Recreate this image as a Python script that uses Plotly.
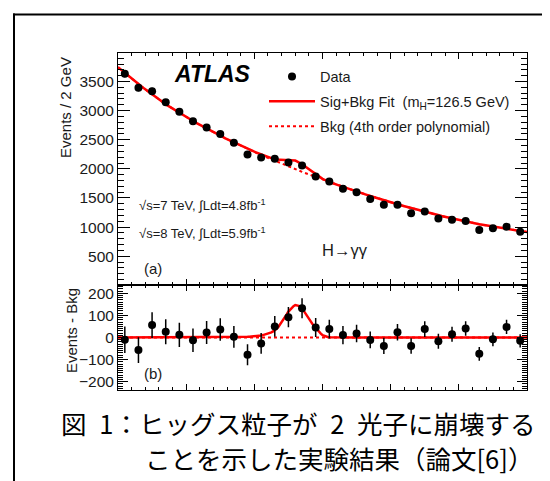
import numpy as np
import plotly.graph_objects as go

# ---------------- data ----------------
mass_bins = [101, 103, 105, 107, 109, 111, 113, 115, 117, 119,
             121, 123, 125, 127, 129, 131, 133, 135, 137, 139,
             141, 143, 145, 147, 149, 151, 153, 155, 157, 159]
data_events = [3632, 3391, 3333, 3143, 2983, 2816, 2712, 2597, 2448, 2247,
               2195, 2172, 2110, 2057, 1867, 1781, 1660, 1597, 1481, 1383,
               1383, 1238, 1267, 1146, 1128, 1105, 950, 979, 1008, 920]
data_err = [60, 58, 58, 56, 55, 53, 52, 51, 49, 47,
            47, 47, 46, 45, 43, 42, 41, 40, 38, 37,
            37, 35, 36, 34, 34, 33, 31, 31, 32, 30]
residuals = [-10, -57, 56, 26, 12, -12, 23, 36, 3, -78,
             -27, 50, 92, 132, 45, 38, 11, 18, -11, -38,
             24, -38, 38, -17, 15, 41, -74, -8, 48, -15]

# background (4th order polynomial) curve, read at bin centres + edges
bkg_mass = [100, 101, 103, 105, 107, 109, 111, 113, 115, 117, 119,
            121, 123, 125, 127, 129, 131, 133, 135, 137, 139,
            141, 143, 145, 147, 149, 151, 153, 155, 157, 159, 160]
bkg_curve = [3745, 3645, 3455, 3275, 3110, 2960, 2820, 2690, 2568, 2452, 2342,
             2237, 2137, 2041, 1949, 1860, 1774, 1691, 1611, 1534, 1461,
             1391, 1325, 1262, 1203, 1148, 1097, 1050, 1007, 967, 930, 915]

# signal component of the fit
sig_mass = [114, 117, 119, 120, 121, 122, 122.5, 123, 123.5, 124, 124.5, 125,
            125.5, 126, 126.5, 127, 127.5, 128, 128.5, 129, 129.5, 130, 130.5,
            131, 132]
sig_curve = [0, 1, 3, 5, 9, 17, 23, 32, 47, 68, 92, 117,
             137, 147, 143, 131, 110, 86, 62, 42, 24, 11, 4,
             1, 0]

y_top_ticks = [500, 1000, 1500, 2000, 2500, 3000, 3500]
y_bot_ticks = [-200, -100, 0, 100, 200]

# ---------------- derived curves ----------------
x_fine = np.arange(100, 160.001, 0.25)
bkg_f = np.interp(x_fine, bkg_mass, bkg_curve)
sig_f = np.interp(x_fine, sig_mass, sig_curve, left=0, right=0)

W, H = 550, 481
def px(x):
    return x / W
def py(y):
    return 1 - y / H

FONT = "Liberation Sans, Arial, sans-serif"
RED = "#ff0000"

fig = go.Figure()

# top panel
fig.add_trace(go.Scatter(x=x_fine, y=bkg_f, mode="lines", xaxis="x2", yaxis="y2",
                         line=dict(color=RED, width=2, dash="dot"),
                         name="Bkg (4th order polynomial)", legendrank=3, legendgroup="c"))
fig.add_trace(go.Scatter(x=x_fine, y=bkg_f + sig_f, mode="lines", xaxis="x2", yaxis="y2",
                         line=dict(color=RED, width=2.5),
                         name="Sig+Bkg Fit\u00a0 (m<sub>H</sub>=126.5 GeV)", legendrank=2,
                         legendgroup="b"))
fig.add_trace(go.Scatter(x=mass_bins, y=data_events, mode="markers", xaxis="x2", yaxis="y2",
                         marker=dict(color="black", size=8),
                         error_y=dict(type="data", array=data_err, color="black",
                                      thickness=1.5, width=0),
                         name="Data", legendrank=1, legendgroup="a"))

# bottom panel
fig.add_trace(go.Scatter(x=x_fine, y=bkg_f - bkg_f, mode="lines", xaxis="x", yaxis="y",
                         line=dict(color=RED, width=2, dash="dot"), showlegend=False))
fig.add_trace(go.Scatter(x=x_fine, y=sig_f, mode="lines", xaxis="x", yaxis="y",
                         line=dict(color=RED, width=2.5), showlegend=False))
fig.add_trace(go.Scatter(x=mass_bins, y=residuals, mode="markers", xaxis="x", yaxis="y",
                         marker=dict(color="black", size=8),
                         error_y=dict(type="data", array=data_err, color="black",
                                      thickness=1.5, width=0),
                         showlegend=False))

xdom = [px(110), px(519)]
top_dom = [py(277.3), py(44.7)]
bot_dom = [py(381.7), py(277.3)]

common_x = dict(range=[100, 160], showticklabels=False, ticks="inside", ticklen=6,
                tickwidth=1, tickcolor="black", tick0=100, dtick=10,
                minor=dict(ticks="inside", dtick=2, ticklen=3, tickcolor="black", tickwidth=1),
                showline=True, linecolor="black", linewidth=1, mirror="allticks",
                showgrid=False, zeroline=False, domain=xdom)

TICKFONT = dict(size=15.5, family=FONT, color="#1a1a1a")

fig.update_layout(
    width=W, height=H,
    margin=dict(l=0, r=0, t=0, b=0),
    paper_bgcolor="white", plot_bgcolor="white",
    font=dict(family=FONT, color="#1a1a1a"),
    xaxis=dict(**common_x, anchor="y"),
    xaxis2=dict(**common_x, anchor="y2", matches="x"),
    yaxis=dict(domain=bot_dom, range=[-236, 236], anchor="x",
               tickmode="array", tickvals=y_bot_ticks, ticks="inside", ticklen=10,
               tickwidth=1, tickcolor="black",
               minor=dict(ticks="inside", tickmode="linear", tick0=0, dtick=10, ticklen=5,
                          tickcolor="black", tickwidth=1),
               showline=True, linecolor="black", linewidth=1, mirror="allticks",
               showgrid=False, zeroline=False, tickfont=TICKFONT),
    yaxis2=dict(domain=top_dom, range=[0.5, 3995], anchor="x2",
                tickmode="array", tickvals=y_top_ticks, ticks="inside", ticklen=12,
                tickwidth=1, tickcolor="black",
                minor=dict(ticks="inside", tickmode="linear", tick0=0, dtick=100, ticklen=6,
                           tickcolor="black", tickwidth=1),
                showline=True, linecolor="black", linewidth=1, mirror="allticks",
                showgrid=False, zeroline=False, tickfont=TICKFONT),
    showlegend=True,
    legend=dict(x=px(256), y=py(52.5), xanchor="left", yanchor="top",
                bgcolor="rgba(0,0,0,0)", borderwidth=0, itemwidth=46,
                font=dict(size=14.5, family=FONT, color="#1a1a1a"),
                traceorder="grouped", tracegroupgap=3),
)

ann = []
def add_text(text, x, y, size, xanchor="left", yanchor="middle", angle=0, family=FONT, color="#1a1a1a"):
    ann.append(dict(text=text, x=px(x), y=py(y), xref="paper", yref="paper",
                    xanchor=xanchor, yanchor=yanchor, showarrow=False, textangle=angle,
                    font=dict(size=size, family=family, color=color)))

add_text("<b><i>ATLAS</i></b>", 164, 66, 23, color="black")
add_text("√s=7 TeV, ∫Ldt=4.8fb<sup>-1</sup>", 129, 197.5, 13)
add_text("√s=8 TeV, ∫Ldt=5.9fb<sup>-1</sup>", 129, 225, 13)
add_text("(a)", 134, 260, 15)
add_text("(b)", 134, 365, 15)
add_text("H→γγ", 312, 242, 16.5)
add_text("Events / 2 GeV", 57, 100, 15, xanchor="center", angle=-90)
add_text("Events - Bkg", 63, 323, 15, xanchor="center", angle=-90)

CJK = "Noto Sans CJK JP"
add_text("図\u20021：ヒッグス粒子が\u20022\u2002光子に崩壊する", 51, 414, 25.5, family=CJK, color="black")
add_text("ことを示した実験結果（論文[6]）", 135, 449, 25.5, family=CJK, color="black")

fig.update_layout(annotations=ann)

fig.update_layout(shapes=[
    dict(type="line", xref="paper", yref="paper", x0=px(5), x1=1, y0=py(6.5), y1=py(6.5),
         line=dict(color="black", width=2)),
    dict(type="line", xref="paper", yref="paper", x0=px(6), x1=px(6), y0=py(5.5), y1=0,
         line=dict(color="black", width=2)),
])

fig.write_html("out.html")
